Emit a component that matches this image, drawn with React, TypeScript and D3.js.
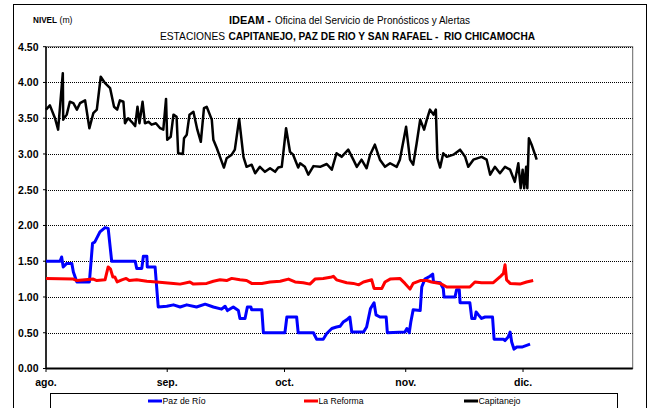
import React from "react";
import * as d3 from "d3";

// x: days since 1 Aug, y: level in metres
const monthTicks = [0, 31, 61, 92, 122];
const monthLabels = ["ago.", "sep.", "oct.", "nov.", "dic."];
const levelTicks = [0, 0.5, 1, 1.5, 2, 2.5, 3, 3.5, 4, 4.5];

const capitanejo: [number, number][] = [
  [0, 3.62], [1.0, 3.68], [2.3, 3.5], [3.1, 3.34], [4.3, 4.13], [4.4, 3.48], [5.3, 3.55], [6.1, 3.73],
  [7.0, 3.71], [7.9, 3.62], [8.7, 3.71], [10.0, 3.75], [11.1, 3.36], [12.1, 3.57], [13.0, 3.62],
  [14.0, 4.08], [15.1, 3.99], [16.4, 3.92], [17.4, 3.66], [18.2, 3.62], [18.9, 3.75], [19.8, 3.73],
  [20.2, 3.43], [21.0, 3.5], [21.9, 3.45], [22.8, 3.39], [23.4, 3.66], [23.9, 3.43], [24.7, 3.73],
  [25.3, 3.43], [26.2, 3.45], [27.0, 3.41], [28.1, 3.43], [29.2, 3.36], [30.0, 3.34], [30.7, 3.77],
  [31.0, 3.2], [31.9, 3.24], [32.6, 3.55], [33.4, 3.52], [33.8, 3.01], [35.0, 3.0], [35.3, 3.22],
  [36.0, 3.27], [36.7, 3.55], [37.7, 3.59], [38.7, 3.34], [39.6, 3.17], [40.4, 3.64], [41.1, 3.66],
  [42.4, 3.48], [42.8, 3.2], [43.7, 3.08], [44.5, 2.96], [45.5, 2.81], [46.2, 2.94], [47.5, 2.99],
  [48.3, 3.06], [49.4, 3.49], [50.5, 2.96], [51.3, 2.82], [52.6, 2.85], [53.5, 2.73], [54.7, 2.82],
  [56.0, 2.75], [57.3, 2.8], [58.6, 2.75], [59.4, 2.81], [60.3, 2.82], [61.4, 3.36], [62.4, 3.03],
  [63.2, 2.99], [64.5, 2.81], [65.0, 2.87], [66.2, 2.82], [67.1, 2.71], [68.4, 2.83], [70.1, 2.82],
  [71.8, 2.86], [73.1, 2.78], [74.3, 3.01], [75.6, 2.96], [77.3, 3.06], [78.6, 2.92], [79.5, 2.82],
  [80.7, 2.92], [82.0, 2.8], [82.9, 2.99], [84.1, 3.13], [85.4, 2.92], [86.7, 2.82], [88.0, 2.87],
  [89.7, 2.82], [90.5, 2.92], [92.1, 3.38], [93.1, 2.92], [93.9, 2.85], [94.8, 3.15], [95.7, 3.48],
  [96.7, 3.34], [97.4, 3.48], [98.2, 3.62], [99.1, 3.55], [99.7, 3.62], [100.1, 2.94], [100.8, 2.81],
  [101.6, 3.01], [102.5, 2.96], [104.2, 2.99], [105.9, 3.06], [107.2, 2.96], [108.0, 2.82],
  [109.3, 2.92], [111.4, 2.96], [112.7, 2.92], [113.6, 2.71], [114.8, 2.82], [116.1, 2.73],
  [117.4, 2.82], [118.7, 2.78], [119.9, 2.61], [120.8, 2.87], [121.4, 2.52], [121.9, 2.78],
  [122.3, 2.52], [122.8, 2.82], [123.1, 2.52], [123.5, 3.22], [124.2, 3.13], [125.5, 2.92],
];

const pazDeRio: [number, number][] = [
  [0, 1.5], [3.6, 1.5], [4.0, 1.56], [4.4, 1.42], [5.3, 1.47], [6.6, 1.47], [7.0, 1.35], [7.9, 1.21],
  [11.1, 1.21], [11.9, 1.75], [12.5, 1.77], [13.8, 1.91], [15.1, 1.97], [15.9, 1.96], [16.8, 1.5],
  [22.8, 1.5], [23.2, 1.4], [24.5, 1.4], [24.9, 1.57], [25.8, 1.57], [25.9, 1.42], [27.9, 1.42],
  [28.7, 0.86], [30.9, 0.87], [32.6, 0.89], [34.3, 0.86], [36.0, 0.89], [38.5, 0.86], [40.7, 0.9],
  [42.8, 0.86], [44.9, 0.83], [45.8, 0.87], [46.4, 0.81], [47.9, 0.86], [49.2, 0.81], [49.6, 0.7],
  [50.9, 0.7], [51.5, 0.86], [52.4, 0.86], [52.6, 0.82], [55.2, 0.82], [55.6, 0.5], [61.1, 0.5],
  [61.6, 0.72], [64.1, 0.72], [64.5, 0.5], [68.4, 0.5], [69.2, 0.41], [70.9, 0.41], [71.8, 0.49],
  [73.1, 0.56], [74.3, 0.58], [75.2, 0.59], [76.0, 0.65], [76.9, 0.68], [77.7, 0.72], [78.2, 0.51],
  [81.2, 0.51], [82.0, 0.58], [83.0, 0.84], [83.9, 0.92], [84.4, 0.75], [85.4, 0.72], [87.0, 0.72],
  [87.3, 0.5], [91.8, 0.51], [92.3, 0.56], [92.9, 0.5], [93.3, 0.65], [93.9, 0.82], [95.7, 0.81],
  [96.1, 1.14], [96.9, 1.25], [98.2, 1.29], [98.9, 1.32], [99.1, 1.21], [100.8, 1.2], [101.6, 1.12],
  [101.8, 1.0], [104.6, 1.0], [105.0, 1.1], [105.7, 1.1], [105.9, 0.92], [108.4, 0.92], [108.9, 0.7],
  [109.7, 0.7], [110.0, 0.79], [110.6, 0.75], [111.4, 0.7], [112.3, 0.72], [114.2, 0.72],
  [114.6, 0.41], [117.0, 0.41], [117.4, 0.39], [118.2, 0.44], [118.7, 0.51], [119.1, 0.37],
  [119.7, 0.27], [120.4, 0.3], [121.7, 0.3], [123.8, 0.34],
];

const laReforma: [number, number][] = [
  [0, 1.26], [7.0, 1.25], [7.9, 1.23], [12.1, 1.25], [13.0, 1.23], [15.1, 1.24], [15.9, 1.42],
  [16.5, 1.39], [17.1, 1.28], [17.6, 1.28], [18.2, 1.21], [19.4, 1.24], [20.5, 1.26], [21.3, 1.23],
  [23.2, 1.24], [25.8, 1.22], [28.3, 1.21], [32.6, 1.19], [34.3, 1.18], [36.8, 1.21], [37.7, 1.18],
  [41.1, 1.19], [42.8, 1.22], [44.5, 1.24], [46.2, 1.23], [47.5, 1.26], [49.6, 1.24], [51.3, 1.23],
  [52.6, 1.19], [55.2, 1.19], [57.3, 1.21], [59.9, 1.22], [62.0, 1.25], [63.7, 1.21], [65.8, 1.2],
  [67.5, 1.18], [68.8, 1.25], [70.9, 1.26], [73.1, 1.28], [73.5, 1.29], [74.3, 1.24], [76.9, 1.2],
  [78.6, 1.19], [80.0, 1.17], [81.2, 1.21], [83.3, 1.24], [83.9, 1.12], [85.9, 1.12], [86.7, 1.21],
  [88.0, 1.25], [90.5, 1.26], [91.8, 1.19], [93.1, 1.11], [93.9, 1.19], [95.7, 1.23], [97.4, 1.23],
  [98.6, 1.21], [100.8, 1.19], [102.5, 1.14], [105.0, 1.14], [108.4, 1.14], [109.7, 1.21],
  [111.4, 1.2], [114.4, 1.2], [116.1, 1.28], [117.0, 1.33], [117.4, 1.45], [117.8, 1.24],
  [118.7, 1.19], [121.2, 1.18], [122.9, 1.21], [124.6, 1.23],
];

const seriesNames = ["Paz de Río", "La Reforma", "Capitanejo"];
const seriesColors = ["#0000ff", "#ff0000", "#000000"];

const W = 648;
const H = 408;
const plot = { left: 46, right: 632.7, top: 46.7, bottom: 368.5 };

const sans = "'Liberation Sans', Arial, sans-serif";

type Piece = { text: string; x: number; y: number; w: number; size: number; bold: boolean };

const titlePieces: Piece[] = [
  { text: "NIVEL", x: 33, y: 23, w: 24, size: 9, bold: true },
  { text: "(m)", x: 59.5, y: 23, w: 13, size: 9, bold: false },
  { text: "IDEAM -", x: 229, y: 24, w: 42, size: 11.5, bold: true },
  { text: "Oficina del Servicio de Pronósticos y Alertas", x: 275, y: 24, w: 195, size: 11.5, bold: false },
  { text: "ESTACIONES", x: 160, y: 40, w: 65, size: 11.5, bold: false },
  { text: "CAPITANEJO, PAZ DE RIO Y SAN RAFAEL -  RIO CHICAMOCHA", x: 228.5, y: 40, w: 306.5, size: 11.5, bold: true },
];

export default function App() {
  const x = d3.scaleLinear().domain([0, 150.05]).range([plot.left, plot.right]);
  const y = d3.scaleLinear().domain([0, 4.5]).range([plot.bottom, plot.top]);
  const line = d3
    .line<[number, number]>()
    .x((d) => x(d[0]))
    .y((d) => y(d[1]));

  const data = [pazDeRio, laReforma, capitanejo];
  const widths = [3, 3, 2.5];
  const legendX = [148, 304, 464];
  const legendW = [43, 45, 42];

  return (
    <svg
      width={W}
      height={H}
      style={{ position: "absolute", left: 0, top: 0, background: "#fff" }}
    >
      <rect x={0} y={0} width={W} height={H} fill="#fff" />
      {/* outer frame */}
      <rect x={13.5} y={4.5} width={633} height={420} fill="none" stroke="#000" strokeWidth={1} />

      {/* titles */}
      {titlePieces.map((p) => (
        <text
          key={p.text}
          x={p.x}
          y={p.y}
          fontFamily={sans}
          fontSize={p.size}
          fontWeight={p.bold ? "bold" : "normal"}
          fill="#000"
          textLength={p.w}
          lengthAdjust="spacingAndGlyphs"
          style={{ whiteSpace: "pre" }}
        >
          {p.text}
        </text>
      ))}

      {/* plot area frame */}
      <rect
        x={plot.left}
        y={plot.top}
        width={plot.right - plot.left}
        height={plot.bottom - plot.top}
        fill="none"
        stroke="#666"
        strokeWidth={1}
      />

      {/* gridlines */}
      {levelTicks
        .filter((t) => t > 0)
        .map((t) => (
          <line
            key={"g" + t}
            x1={plot.left}
            x2={plot.right}
            y1={Math.round(y(t)) + 0.5}
            y2={Math.round(y(t)) + 0.5}
            stroke="#000"
            strokeWidth={1}
            strokeDasharray="1 1"
          />
        ))}

      {/* y axis */}
      <line x1={plot.left} x2={plot.left} y1={plot.top} y2={plot.bottom} stroke="#000" strokeWidth={1.5} />
      {levelTicks.map((t) => (
        <g key={"y" + t}>
          <line x1={plot.left - 3} x2={plot.left} y1={y(t)} y2={y(t)} stroke="#000" strokeWidth={1} />
          <text
            x={38.5}
            y={y(t) + 3.8}
            textAnchor="end"
            fontFamily={sans}
            fontWeight="bold"
            fontSize={10.5}
            fill="#000"
          >
            {t.toFixed(2)}
          </text>
        </g>
      ))}

      {/* x axis */}
      <line x1={plot.left} x2={plot.right} y1={plot.bottom} y2={plot.bottom} stroke="#000" strokeWidth={2} />
      {monthTicks.map((m, i) => (
        <g key={"x" + m}>
          <line x1={x(m)} x2={x(m)} y1={plot.bottom} y2={plot.bottom + 3.5} stroke="#000" strokeWidth={1} />
          <text
            x={x(m)}
            y={386}
            textAnchor="middle"
            fontFamily={sans}
            fontWeight="bold"
            fontSize={10.5}
            fill="#000"
          >
            {monthLabels[i]}
          </text>
        </g>
      ))}

      {/* series */}
      <g fill="none" strokeLinejoin="round" strokeLinecap="butt">
        {data.map((s, i) => (
          <path key={seriesNames[i]} d={line(s) || ""} stroke={seriesColors[i]} strokeWidth={widths[i]} />
        ))}
      </g>

      {/* legend */}
      <rect x={50.5} y={393.5} width={567} height={30} fill="#fff" stroke="#000" strokeWidth={1} />
      {seriesNames.map((n, i) => (
        <g key={"l" + n}>
          <line
            x1={legendX[i]}
            x2={legendX[i] + 14}
            y1={401}
            y2={401}
            stroke={seriesColors[i]}
            strokeWidth={3}
          />
          <text
            x={legendX[i] + 14.5}
            y={404}
            fontFamily={sans}
            fontSize={9.5}
            fill="#000"
            textLength={legendW[i]}
            lengthAdjust="spacingAndGlyphs"
          >
            {n}
          </text>
        </g>
      ))}
    </svg>
  );
}
